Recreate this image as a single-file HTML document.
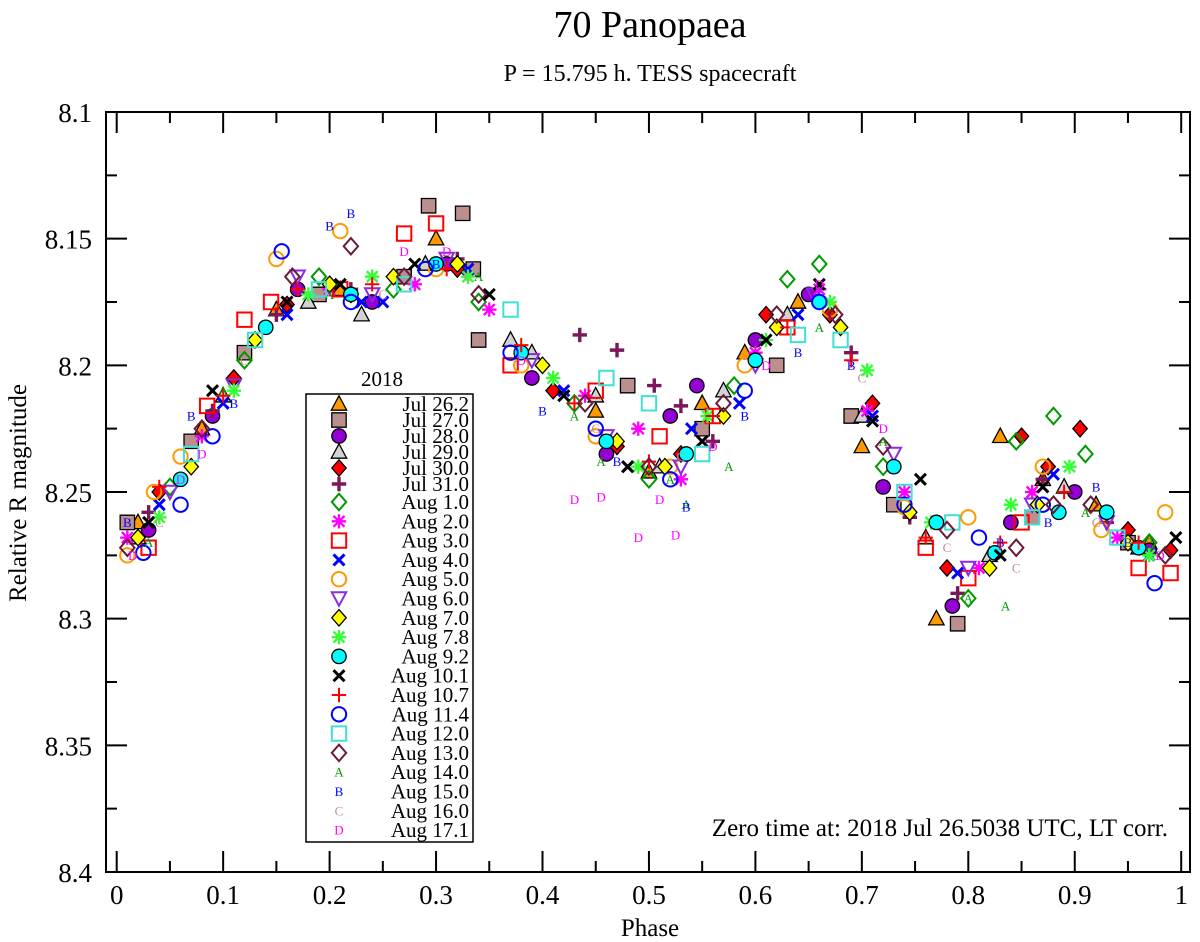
<!DOCTYPE html>
<html><head><meta charset="utf-8"><style>
body{margin:0;background:#fff;}
svg{display:block;font-family:"Liberation Serif",serif;}
</style></head><body>
<svg id="c" width="1200" height="942" viewBox="0 0 1200 942" xmlns="http://www.w3.org/2000/svg">
<text x="650" y="37" font-size="38" text-anchor="middle">70 Panopaea</text>
<text x="650" y="81" font-size="24" text-anchor="middle">P = 15.795 h. TESS spacecraft</text>
<text transform="translate(26,493) rotate(-90)" font-size="25" text-anchor="middle">Relative R magnitude</text>
<text x="650" y="936" font-size="25" text-anchor="middle">Phase</text>
<g id="marks"></g>
<g id="axes"></g>
<g id="legend"></g>
<text x="1168" y="836" font-size="25" text-anchor="end">Zero time at: 2018 Jul 26.5038 UTC, LT corr.</text>
</svg>
<script>
const xTicks=[0,0.1,0.2,0.3,0.4,0.5,0.6,0.7,0.8,0.9,1];
const xTickLabels=["0","0.1","0.2","0.3","0.4","0.5","0.6","0.7","0.8","0.9","1"];
const yTicks=[8.1,8.15,8.2,8.25,8.3,8.35,8.4];
const yTickLabels=["8.1","8.15","8.2","8.25","8.3","8.35","8.4"];
const sessionLabels=["Jul 26.2","Jul 27.0","Jul 28.0","Jul 29.0","Jul 30.0","Jul 31.0","Aug 1.0","Aug 2.0","Aug 3.0","Aug 4.0","Aug 5.0","Aug 6.0","Aug 7.0","Aug 7.8","Aug 9.2","Aug 10.1","Aug 10.7","Aug 11.4","Aug 12.0","Aug 13.0","Aug 14.0","Aug 15.0","Aug 16.0","Aug 17.1"];
const s01=[[0.02,8.262],[0.08,8.225],[0.15,8.178],[0.21,8.17],[0.30,8.150],[0.38,8.195],[0.45,8.218],[0.50,8.242],[0.55,8.215],[0.59,8.195],[0.64,8.175],[0.70,8.232],[0.77,8.3],[0.83,8.228],[0.87,8.245],[0.92,8.255],[0.97,8.27]];
const s02=[[0.01,8.262],[0.07,8.23],[0.12,8.195],[0.19,8.172],[0.27,8.165],[0.293,8.137],[0.325,8.14],[0.335,8.162],[0.34,8.19],[0.48,8.208],[0.55,8.225],[0.62,8.2],[0.69,8.22],[0.73,8.255],[0.79,8.302],[0.86,8.26],[0.95,8.27]];
const s03=[[0.03,8.265],[0.09,8.22],[0.17,8.17],[0.24,8.175],[0.31,8.16],[0.39,8.205],[0.46,8.235],[0.52,8.22],[0.545,8.208],[0.60,8.19],[0.65,8.172],[0.72,8.248],[0.785,8.295],[0.84,8.262],[0.90,8.25],[0.97,8.273]];
const s04=[[0.02,8.268],[0.10,8.212],[0.18,8.175],[0.23,8.18],[0.29,8.16],[0.37,8.19],[0.39,8.195],[0.45,8.212],[0.51,8.24],[0.57,8.21],[0.63,8.18],[0.70,8.22],[0.76,8.268],[0.82,8.275],[0.89,8.248],[0.96,8.272]];
const s05=[[0.04,8.25],[0.11,8.205],[0.16,8.176],[0.22,8.172],[0.32,8.162],[0.41,8.21],[0.47,8.232],[0.53,8.235],[0.61,8.18],[0.67,8.18],[0.71,8.215],[0.78,8.28],[0.85,8.228],[0.875,8.24],[0.905,8.225],[0.95,8.265],[0.99,8.273]];
const s06=[[0.03,8.258],[0.09,8.218],[0.15,8.18],[0.22,8.17],[0.32,8.158],[0.40,8.2],[0.435,8.188],[0.47,8.194],[0.505,8.208],[0.53,8.216],[0.56,8.23],[0.62,8.185],[0.69,8.195],[0.745,8.26],[0.79,8.29],[0.87,8.245],[0.93,8.262]];
const s07=[[0.05,8.248],[0.12,8.198],[0.19,8.165],[0.26,8.17],[0.34,8.175],[0.43,8.215],[0.50,8.245],[0.58,8.208],[0.63,8.166],[0.66,8.16],[0.72,8.24],[0.80,8.292],[0.845,8.23],[0.88,8.22],[0.91,8.235],[0.97,8.27]];
const s08=[[0.01,8.268],[0.08,8.228],[0.14,8.185],[0.20,8.17],[0.28,8.168],[0.35,8.178],[0.44,8.212],[0.49,8.225],[0.53,8.245],[0.60,8.195],[0.66,8.17],[0.705,8.218],[0.74,8.25],[0.81,8.28],[0.86,8.25],[0.94,8.268]];
const s09=[[0.03,8.272],[0.085,8.216],[0.12,8.182],[0.145,8.175],[0.21,8.17],[0.27,8.148],[0.30,8.144],[0.37,8.2],[0.45,8.21],[0.51,8.228],[0.56,8.22],[0.63,8.185],[0.76,8.272],[0.80,8.284],[0.85,8.262],[0.96,8.28],[0.99,8.282]];
const s10=[[0.04,8.255],[0.10,8.215],[0.16,8.18],[0.23,8.175],[0.25,8.175],[0.33,8.162],[0.42,8.21],[0.48,8.24],[0.54,8.225],[0.585,8.215],[0.64,8.18],[0.71,8.22],[0.79,8.282],[0.88,8.243],[0.97,8.275]];
const s11=[[0.01,8.275],[0.035,8.25],[0.06,8.236],[0.15,8.158],[0.21,8.147],[0.30,8.162],[0.38,8.2],[0.45,8.228],[0.52,8.24],[0.59,8.2],[0.67,8.178],[0.74,8.256],[0.80,8.26],[0.87,8.24],[0.925,8.265],[0.985,8.258]];
const s12=[[0.05,8.25],[0.11,8.208],[0.17,8.165],[0.24,8.172],[0.31,8.158],[0.39,8.198],[0.46,8.228],[0.53,8.24],[0.60,8.2],[0.655,8.172],[0.73,8.235],[0.80,8.28],[0.86,8.255],[0.93,8.262]];
const s13=[[0.02,8.268],[0.07,8.24],[0.13,8.19],[0.20,8.168],[0.26,8.165],[0.32,8.16],[0.40,8.2],[0.47,8.23],[0.515,8.24],[0.57,8.22],[0.62,8.185],[0.68,8.185],[0.745,8.258],[0.82,8.28],[0.865,8.255],[0.95,8.27]];
const s14=[[0.04,8.26],[0.11,8.21],[0.18,8.172],[0.24,8.165],[0.33,8.165],[0.41,8.205],[0.49,8.24],[0.555,8.22],[0.61,8.19],[0.67,8.175],[0.705,8.202],[0.765,8.262],[0.84,8.255],[0.895,8.24],[0.97,8.275]];
const s15=[[0.06,8.245],[0.14,8.185],[0.22,8.172],[0.30,8.16],[0.38,8.195],[0.46,8.23],[0.535,8.235],[0.60,8.198],[0.66,8.175],[0.73,8.24],[0.77,8.262],[0.825,8.274],[0.885,8.258],[0.93,8.258],[0.96,8.272]];
const s16=[[0.03,8.262],[0.09,8.21],[0.16,8.175],[0.21,8.168],[0.28,8.16],[0.35,8.172],[0.42,8.212],[0.48,8.24],[0.55,8.23],[0.61,8.19],[0.66,8.168],[0.71,8.222],[0.755,8.245],[0.83,8.275],[0.87,8.248],[0.995,8.268]];
const s17=[[0.04,8.248],[0.10,8.212],[0.17,8.17],[0.24,8.168],[0.31,8.162],[0.38,8.192],[0.43,8.215],[0.50,8.238],[0.56,8.22],[0.63,8.185],[0.69,8.198],[0.76,8.268],[0.83,8.27],[0.89,8.25],[0.96,8.27]];
const s18=[[0.025,8.274],[0.06,8.255],[0.09,8.228],[0.155,8.155],[0.22,8.175],[0.29,8.162],[0.37,8.195],[0.45,8.225],[0.52,8.245],[0.59,8.21],[0.66,8.175],[0.74,8.255],[0.81,8.268],[0.87,8.255],[0.975,8.286]];
const s19=[[0.07,8.235],[0.13,8.19],[0.19,8.17],[0.27,8.168],[0.37,8.178],[0.46,8.205],[0.50,8.215],[0.55,8.235],[0.64,8.188],[0.68,8.19],[0.74,8.25],[0.785,8.262],[0.86,8.26],[0.94,8.268]];
const s20=[[0.01,8.272],[0.08,8.225],[0.165,8.165],[0.22,8.153],[0.27,8.165],[0.34,8.172],[0.44,8.215],[0.50,8.24],[0.57,8.215],[0.62,8.18],[0.675,8.18],[0.72,8.232],[0.78,8.265],[0.845,8.272],[0.88,8.255],[0.915,8.255],[0.985,8.275]];
const s21=[[0.03,8.27],[0.10,8.21],[0.20,8.172],[0.34,8.165],[0.43,8.22],[0.455,8.238],[0.52,8.245],[0.535,8.255],[0.575,8.24],[0.66,8.185],[0.72,8.23],[0.80,8.292],[0.835,8.295],[0.91,8.258],[0.97,8.268]];
const s22=[[0.01,8.262],[0.07,8.22],[0.11,8.215],[0.20,8.145],[0.22,8.14],[0.30,8.16],[0.40,8.218],[0.47,8.238],[0.535,8.256],[0.59,8.22],[0.64,8.195],[0.69,8.2],[0.83,8.27],[0.875,8.262],[0.92,8.248],[0.95,8.27]];
const s23=[[0.04,8.262],[0.12,8.198],[0.25,8.172],[0.33,8.165],[0.45,8.225],[0.53,8.236],[0.62,8.2],[0.70,8.205],[0.78,8.272],[0.845,8.28],[0.92,8.262]];
const s24=[[0.015,8.275],[0.06,8.245],[0.08,8.235],[0.27,8.155],[0.31,8.155],[0.38,8.198],[0.43,8.253],[0.455,8.252],[0.49,8.268],[0.51,8.253],[0.525,8.267],[0.56,8.232],[0.61,8.2],[0.66,8.168],[0.72,8.225],[0.98,8.275]];
const sessions=[s01,s02,s03,s04,s05,s06,s07,s08,s09,s10,s11,s12,s13,s14,s15,s16,s17,s18,s19,s20,s21,s22,s23,s24];

const styles=[
 ["triup","#ff9900","#000"],["square","#bc8f8f","#000"],["circle","#9400d3","#000"],["triup","#d3d3d3","#000"],
 ["diamond","#ff0000","#000"],["plus","#7a1858",null],["diamond","none","#009900"],["star","#ff00ff",null],
 ["square","none","#ff0000"],["cross","#0000ff",null],["circle","none","#ff9900"],["tridown","none","#8a2be2"],
 ["diamond","#ffff00","#000"],["star","#33ff33",null],["circle","#00ffff","#000"],["cross","#000000",null],
 ["plus","#ff0000",null],["circle","none","#0000ff"],["square","none","#40e0d0"],["diamond","none","#6b1a3a"],
 ["A","#009900",null],["B","#0000ff",null],["C","#bc8f8f",null],["D","#ff00ff",null]];

const X0=116.7,X1=1181.2,Y0=112,Y1=872,BL=106,BR=1190;
function xS(p){return X0+p*(X1-X0);}
function yS(m){return Y0+(m-8.1)/0.3*(Y1-Y0);}
const NS="http://www.w3.org/2000/svg";
function mk(tag,attrs,parent){const e=document.createElementNS(NS,tag);for(const k in attrs)e.setAttribute(k,attrs[k]);parent.appendChild(e);return e;}
function marker(parent,st,x,y){
 const [t,f,s]=st;const r=7.2;let d;
 if(t==="triup")d=`M${x},${y-r-1}L${x+r+0.5},${y+r-1}L${x-r-0.5},${y+r-1}Z`;
 else if(t==="tridown")d=`M${x},${y+r}L${x+r},${y-r+1}L${x-r},${y-r+1}Z`;
 else if(t==="square")d=`M${x-r},${y-r}h${2*r}v${2*r}h${-2*r}Z`;
 else if(t==="diamond")d=`M${x},${y-r-1}L${x+r},${y}L${x},${y+r+1}L${x-r},${y}Z`;
 if(d){return mk("path",{d:d,fill:f,stroke:s,"stroke-width":f==="none"?2:1.3},parent);}
 if(t==="circle")return mk("circle",{cx:x,cy:y,r:r,fill:f,stroke:s,"stroke-width":f==="none"?2:1.3},parent);
 if(t==="plus")return mk("path",{d:`M${x-r},${y}h${2*r}M${x},${y-r}v${2*r}`,stroke:f,"stroke-width":f==="#ff0000"?2:3.4,fill:"none"},parent);
 if(t==="cross")return mk("path",{d:`M${x-5.5},${y-5.5}L${x+5.5},${y+5.5}M${x+5.5},${y-5.5}L${x-5.5},${y+5.5}`,stroke:f,"stroke-width":3,fill:"none"},parent);
 if(t==="star")return mk("path",{d:`M${x-r},${y}h${2*r}M${x},${y-r}v${2*r}M${x-5.5},${y-5.5}L${x+5.5},${y+5.5}M${x+5.5},${y-5.5}L${x-5.5},${y+5.5}`,stroke:f,"stroke-width":2.3,fill:"none"},parent);
 const tx=mk("text",{x:x,y:y+4.5,"font-size":13,"text-anchor":"middle",fill:f},parent);tx.textContent=t;return tx;
}
const marks=document.getElementById("marks");
sessions.forEach((arr,i)=>{
 const g=mk("g",{},marks);
 
 
 arr.forEach(pt=>{
  const m=marker(g,styles[i],xS(pt[0]),yS(pt[1]));
  
  
 });
});
const ax=document.getElementById("axes");
const frame=mk("rect",{x:BL,y:Y0,width:BR-BL,height:Y1-Y0,fill:"none",stroke:"#000","stroke-width":2},ax);


xTicks.forEach((v,i)=>{
 const x=xS(v);
 mk("path",{d:`M${x},${Y1}v-21M${x},${Y0}v21`,stroke:"#000","stroke-width":2},ax);
 if(i<xTicks.length-1){const xm=xS(v+0.05);mk("path",{d:`M${xm},${Y1}v-11M${xm},${Y0}v11`,stroke:"#000","stroke-width":2},ax);}
 const t=mk("text",{x:x,y:904,"font-size":27,"text-anchor":"middle"},ax);t.textContent=xTickLabels[i];
 
 
});
yTicks.forEach((v,i)=>{
 const y=yS(v);
 mk("path",{d:`M${BL},${y}h21M${BR},${y}h-21`,stroke:"#000","stroke-width":2},ax);
 if(i<yTicks.length-1){const ym=yS(v+0.025);mk("path",{d:`M${BL},${ym}h11M${BR},${ym}h-11`,stroke:"#000","stroke-width":2},ax);}
 const t=mk("text",{x:92,y:y+10,"font-size":27,"text-anchor":"end"},ax);t.textContent=yTickLabels[i];
 
 
});
const lg=document.getElementById("legend");
const lgbox=mk("rect",{x:306,y:394,width:167,height:448,fill:"#fff",stroke:"#000","stroke-width":1.5},lg);


const lt=mk("text",{x:382,y:386,"font-size":21,"text-anchor":"middle"},lg);lt.textContent="2018";


sessionLabels.forEach((lab,i)=>{
 const y=i<6?404+i*16:502+(i-6)*19.3;
 const g=mk("g",{},lg);
 
 
 marker(g,styles[i],339,y);
 const t=mk("text",{x:469,y:y+7,"font-size":21,"text-anchor":"end"},g);t.textContent=lab;
});
</script>
</body></html>
